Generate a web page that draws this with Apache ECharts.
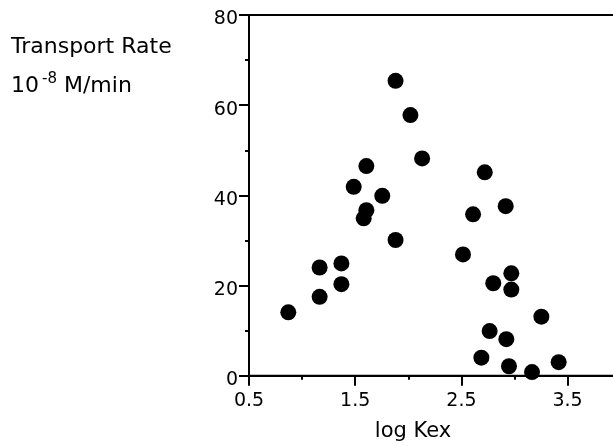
<!DOCTYPE html>
<html><head><meta charset="utf-8">
<script src="https://cdn.jsdelivr.net/npm/echarts@6/dist/echarts.min.js"></script>
<style>html,body{margin:0;padding:0;background:#fff}#c{width:613px;height:446px}</style>
</head><body><div id="c"></div>
<script>
const logKex = [0.87,1.165,1.165,1.37,1.37,1.486,1.605,1.605,1.58,1.755,1.88,1.88,2.02,2.13,2.515,2.61,2.72,2.917,2.80,2.97,2.97,2.766,2.688,2.923,2.948,3.165,3.253,3.416];
const rate   = [14.05,24.0,17.5,24.9,20.3,41.9,46.5,36.7,34.9,39.9,65.4,30.1,57.8,48.2,26.9,35.8,45.1,37.6,20.5,22.7,19.1,9.9,4.0,8.1,2.1,0.8,13.1,3.0];
const xTicks = ['0.5','1.5','2.5','3.5'];
const yTicks = [0,20,40,60,80];
const yTitle1 = 'Transport Rate';
const xTitle = 'log Kex';

const chart = echarts.init(document.getElementById('c'));
const F = 'DejaVu Sans';
chart.setOption({
  animation:false,
  grid:{left:249,top:15,width:371.7,height:360.7,show:true,borderColor:'#000',borderWidth:2,
        backgroundColor:'transparent',outerBoundsMode:'none',containLabel:false},
  xAxis:[{type:'value',min:0.5,max:4.0,interval:1,
    axisLine:{show:true,lineStyle:{color:'#000',width:2}},
    axisTick:{show:true,length:10,lineStyle:{color:'#000',width:2}},
    minorTick:{show:true,splitNumber:2,length:4,lineStyle:{color:'#000',width:2}},
    splitLine:{show:false},minorSplitLine:{show:false},
    axisLabel:{color:'#000',fontFamily:F,fontSize:19,margin:16,
      formatter:v=>{const s=(Math.round(v*10)/10).toFixed(1);return xTicks.indexOf(s)>=0?s:'';}}
  }],
  yAxis:[{type:'value',min:0,max:80,interval:20,
    axisLine:{show:true,lineStyle:{color:'#000',width:2}},
    axisTick:{show:true,length:10,lineStyle:{color:'#000',width:2}},
    minorTick:{show:true,splitNumber:2,length:4,lineStyle:{color:'#000',width:2}},
    splitLine:{show:false},minorSplitLine:{show:false},
    axisLabel:{color:'#000',margin:11,
      rich:{t:{fontFamily:F,fontSize:19,color:'#000',padding:[9,0,0,0]}},
      formatter:v=>yTicks.indexOf(v)>=0?'{t|'+v+'}':''}
  }],
  graphic:[
    {type:'text',left:11,top:36,style:{text:yTitle1,fontSize:22,fontFamily:F,fill:'#000'}},
    {type:'text',left:11,top:72,style:{text:'{a|10}{s|-8}{a| M/min}',fontSize:22,fontFamily:F,fill:'#000',
      rich:{a:{fontSize:22,fontFamily:F,verticalAlign:'bottom'},s:{fontSize:15,fontFamily:F,verticalAlign:'top',padding:[0,0,10,3]}}}},
    {type:'text',x:413,y:421,style:{text:xTitle,fontSize:21,fontFamily:F,fill:'#000',align:'center'}}
  ],
  series:[{type:'scatter',symbol:'circle',symbolSize:16,itemStyle:{color:'#000',opacity:1},
    data:logKex.map((x,i)=>[x,rate[i]])}]
});
</script></body></html>
